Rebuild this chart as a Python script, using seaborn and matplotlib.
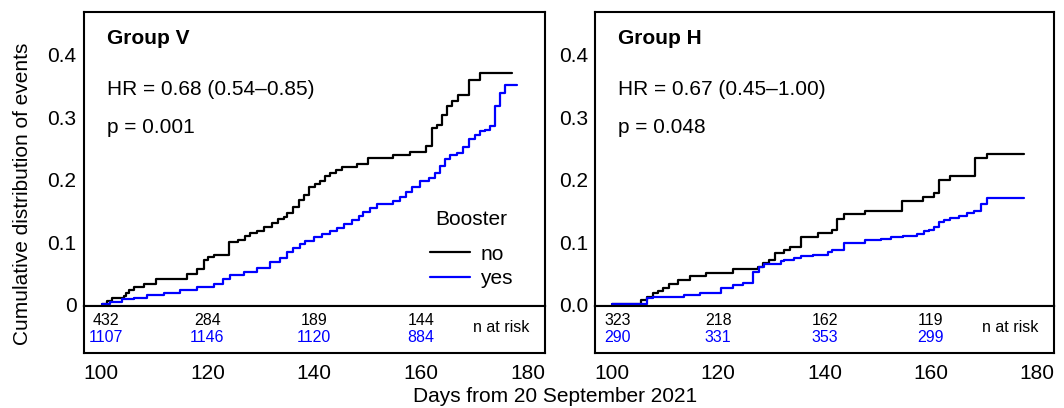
import matplotlib
matplotlib.use("Agg")
import pandas as pd
import matplotlib.pyplot as plt
import seaborn as sns

# step curves: day of each step and cumulative value after it
v_no_days = [100.3, 101.2, 102.2, 104.3, 104.8, 105.3, 106.2, 108.1, 110.3, 116.2,
             118.1, 119.3, 120.2, 121.2, 124.0, 125.8, 127.1, 128.0, 129.3, 130.5,
             132.1, 133.3, 134.3, 134.9, 136.1, 137.1, 138.0, 139.1, 140.2, 141.1,
             142.1, 143.0, 144.1, 145.2, 148.0, 150.0, 154.8, 158.0, 161.0, 162.0,
             162.9, 163.9, 164.8, 165.8, 167.0, 168.9, 171.0, 177.0]
v_no_cum = [0.0, 0.005, 0.010, 0.013, 0.018, 0.023, 0.028, 0.033, 0.040, 0.048,
            0.057, 0.071, 0.076, 0.080, 0.100, 0.104, 0.110, 0.114, 0.118, 0.124,
            0.131, 0.137, 0.140, 0.146, 0.156, 0.168, 0.175, 0.188, 0.193, 0.198,
            0.205, 0.211, 0.216, 0.220, 0.225, 0.234, 0.239, 0.244, 0.254, 0.282,
            0.288, 0.304, 0.318, 0.326, 0.335, 0.360, 0.371, 0.371]

v_yes_days = [100.3, 101.8, 104.0, 106.2, 108.7, 111.8, 114.9, 118.1, 121.2, 123.0,
              124.3, 126.8, 129.3, 131.8, 133.6, 134.9, 136.1, 137.4, 138.3, 139.9,
              141.4, 143.0, 144.2, 145.5, 147.0, 148.3, 149.2, 150.5, 151.7, 154.8,
              156.1, 157.2, 158.3, 159.8, 161.4, 162.6, 163.6, 164.5, 165.4, 166.7,
              167.9, 168.9, 170.1, 171.0, 172.0, 172.9, 173.9, 174.8, 175.7, 177.9]
v_yes_cum = [0.0, 0.004, 0.008, 0.011, 0.015, 0.019, 0.023, 0.028, 0.033, 0.041,
             0.047, 0.052, 0.058, 0.068, 0.074, 0.084, 0.090, 0.097, 0.102, 0.108,
             0.113, 0.117, 0.122, 0.129, 0.136, 0.141, 0.148, 0.154, 0.161, 0.166,
             0.172, 0.180, 0.188, 0.198, 0.202, 0.211, 0.222, 0.233, 0.239, 0.243,
             0.253, 0.265, 0.271, 0.278, 0.280, 0.286, 0.318, 0.339, 0.351, 0.351]

h_no_days = [100.0, 105.5, 106.6, 107.7, 108.6, 109.6, 110.8, 112.4, 114.6, 117.7,
             122.7, 127.5, 128.4, 129.6, 130.6, 132.4, 133.5, 135.6, 138.7, 141.5,
             142.4, 143.7, 147.6, 154.5, 158.5, 160.6, 161.5, 163.6, 168.3, 170.5,
             177.6]
h_no_cum = [0.0, 0.007, 0.012, 0.018, 0.021, 0.027, 0.032, 0.039, 0.046, 0.051,
            0.056, 0.060, 0.066, 0.071, 0.082, 0.087, 0.092, 0.108, 0.115, 0.120,
            0.137, 0.145, 0.150, 0.165, 0.172, 0.178, 0.200, 0.206, 0.234, 0.241,
            0.241]

h_yes_days = [100.0, 106.6, 107.7, 113.6, 116.5, 120.5, 122.7, 124.6, 126.5, 127.6,
              128.7, 131.8, 132.4, 134.3, 135.6, 137.8, 140.6, 141.5, 143.6, 147.6,
              150.6, 152.5, 154.7, 157.5, 158.7, 159.7, 160.6, 161.5, 162.5, 163.7,
              165.3, 166.9, 168.2, 169.5, 170.6, 177.5]
h_yes_cum = [0.0, 0.011, 0.012, 0.015, 0.018, 0.027, 0.031, 0.035, 0.052, 0.060,
             0.065, 0.069, 0.071, 0.074, 0.078, 0.080, 0.084, 0.088, 0.099, 0.103,
             0.105, 0.108, 0.110, 0.113, 0.117, 0.120, 0.124, 0.132, 0.136, 0.138,
             0.142, 0.147, 0.150, 0.161, 0.170, 0.170]

# number at risk table
risk_days = [101, 120, 140, 160]
v_risk_no = [432, 284, 189, 144]
v_risk_yes = [1107, 1146, 1120, 884]
h_risk_no = [323, 218, 162, 119]
h_risk_yes = [290, 331, 353, 299]

x_ticks = [100, 120, 140, 160, 180]
y_ticks = [0.0, 0.1, 0.2, 0.3, 0.4]
v_ytick_labels = ["0", "0.1", "0.2", "0.3", "0.4"]
h_ytick_labels = ["0.0", "0.1", "0.2", "0.3", "0.4"]

COLORS = {"no": "black", "yes": "blue"}
W, H = 1064, 408
FS = 15


def curve_df(no_days, no_cum, yes_days, yes_cum):
    a = pd.DataFrame({"days": no_days, "cum": no_cum, "Booster": "no"})
    b = pd.DataFrame({"days": yes_days, "cum": yes_cum, "Booster": "yes"})
    return pd.concat([a, b], ignore_index=True)


def draw_panel(left, width, df, title, hr, p, ylabels, risk_no, risk_yes, legend):
    ax = fig.add_axes([left / W, 1 - 306 / H, width / W, 294 / H])
    ax_r = fig.add_axes([left / W, 1 - 353 / H, width / W, 47 / H])

    sns.lineplot(data=df, x="days", y="cum", hue="Booster", palette=COLORS,
                 estimator=None, drawstyle="steps-post", linewidth=1.6,
                 legend=legend, ax=ax)
    ax.set_xlim(96.8, 183.2)
    ax.set_ylim(-0.0025, 0.4685)
    ax.set_xticks([])
    ax.set_yticks(y_ticks)
    ax.set_yticklabels(ylabels)
    ax.set_xlabel("")
    ax.set_ylabel("")
    ax.tick_params(axis="y", direction="in", length=6, width=1.4, pad=5, labelsize=FS)

    ax.text(101.2, 0.426, title, fontsize=FS, fontweight="bold", va="center")
    ax.text(101.2, 0.344, hr, fontsize=FS, va="center")
    ax.text(101.2, 0.284, p, fontsize=FS, va="center")

    if legend:
        handles, labels = ax.get_legend_handles_labels()
        leg = ax.legend(handles, labels, title="Booster", frameon=False,
                        loc="upper left", bbox_to_anchor=(0.751, 0.325),
                        borderpad=0, borderaxespad=0, handlelength=1.92,
                        handletextpad=0.5, labelspacing=0.27, fontsize=FS,
                        title_fontsize=FS)
        leg._legend_box.sep = 11  # extra room under the title
        for ln in leg.get_lines():
            ln.set_linewidth(1.6)

    ax_r.set_xlim(96.8, 183.2)
    ax_r.set_ylim(0, 1)
    ax_r.set_yticks([])
    ax_r.set_xticks(x_ticks)
    ax_r.tick_params(axis="x", direction="in", length=5.5, width=1.4, pad=8, labelsize=FS)
    for d, n in zip(risk_days, risk_no):
        ax_r.text(d, 0.70, str(n), ha="center", va="center", fontsize=11.5, color="black")
    for d, n in zip(risk_days, risk_yes):
        ax_r.text(d, 0.32, str(n), ha="center", va="center", fontsize=11.5, color="blue")
    ax_r.text(175, 0.55, "n at risk", ha="center", va="center", fontsize=11.5)

    for a in (ax, ax_r):
        for s in a.spines.values():
            s.set_linewidth(1.5)
            s.set_color("black")


sns.set_style("white")
plt.rcParams["font.family"] = ["Liberation Sans", "DejaVu Sans"]
plt.rcParams.update({"text.color": "black", "axes.labelcolor": "black",
                     "xtick.color": "black", "ytick.color": "black"})

fig = plt.figure(figsize=(W / 100, H / 100), dpi=100)

draw_panel(83.5, 461.5, curve_df(v_no_days, v_no_cum, v_yes_days, v_yes_cum),
           "Group V", "HR = 0.68 (0.54\u20130.85)", "p = 0.001",
           v_ytick_labels, v_risk_no, v_risk_yes, legend=True)
draw_panel(595, 459, curve_df(h_no_days, h_no_cum, h_yes_days, h_yes_cum),
           "Group H", "HR = 0.67 (0.45\u20131.00)", "p = 0.048",
           h_ytick_labels, h_risk_no, h_risk_yes, legend=False)

fig.text(0.0216, 1 - 194 / H, "Cumulative distribution of events", rotation=90,
         ha="center", va="center", fontsize=FS)
fig.text(0.522, 1 - 397 / H, "Days from 20 September 2021", ha="center",
         va="center", fontsize=FS)

fig.savefig("out.png", dpi=100)
